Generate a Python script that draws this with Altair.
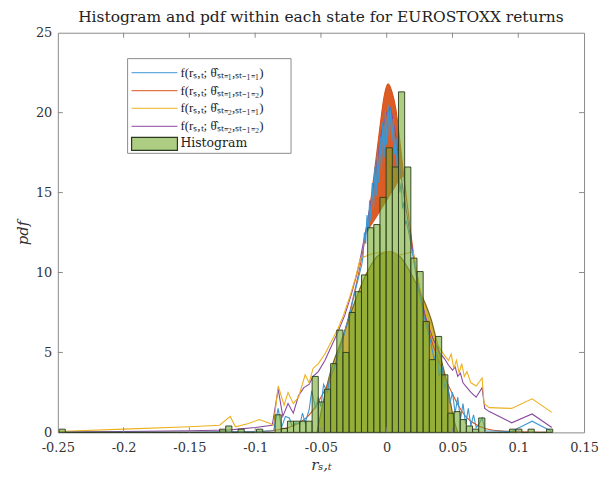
import altair as alt
import pandas as pd

FONT = "DejaVu Serif"

# ---------------- data ----------------
BIN_ORIGIN = -0.249
BIN_WIDTH = 0.00469
hist_bins = list(range(80))
hist_nonzero = {0: 0.2, 26: 0.2, 27: 0.4, 29: 0.2, 32: 0.2, 35: 1.1, 36: 0.25,
                37: 0.7, 38: 0.7, 39: 0.7, 40: 0.7, 41: 3.5, 42: 1.9, 43: 2.7,
                44: 4.3, 45: 6.4, 46: 5.0, 47: 7.5, 48: 8.8, 49: 9.85, 50: 12.8,
                51: 13.0, 52: 14.7, 53: 17.8, 54: 16.6, 55: 21.3, 56: 16.6,
                57: 10.9, 58: 10.06, 59: 6.94, 60: 4.55, 61: 6.0, 62: 3.6,
                63: 1.2, 64: 1.3, 65: 0.8, 66: 0.4, 67: 0.2, 68: 0.9, 73: 0.2,
                74: 0.2, 76: 0.2, 79: 0.2}
hist_density = [hist_nonzero.get(k, 0.0) for k in hist_bins]

x_ticks = [-0.25, -0.2, -0.15, -0.1, -0.05, 0, 0.05, 0.1, 0.15]
y_ticks = [0, 5, 10, 15, 20, 25]

red_x = [-0.25, -0.15, -0.1, -0.08, -0.07, -0.06, -0.055, -0.05, -0.045, -0.04,
         -0.035, -0.03, -0.025, -0.02, -0.016, -0.012, -0.008, -0.005, -0.002,
         0.001, 0.004, 0.007, 0.010, 0.013, 0.016, 0.02, 0.025, 0.03, 0.035,
         0.04, 0.045, 0.05, 0.055, 0.06, 0.07, 0.08, 0.1, 0.125]
red_y = [0.0, 0.01, 0.05, 0.2, 0.45, 1.0, 1.5, 2.2, 3.0, 4.0,
         5.4, 6.9, 8.6, 10.5, 12.4, 14.6, 17.2, 19.2, 21.0,
         21.8, 21.3, 20.2, 18.2, 16.0, 14.0, 11.4, 9.0, 6.9, 5.5,
         4.4, 3.3, 2.4, 1.6, 1.0, 0.4, 0.15, 0.04, 0.01]

cap_x = [-0.016, -0.012, -0.008, -0.005, -0.002, 0.001, 0.004, 0.007, 0.010, 0.013]
cap_top = [12.4, 14.6, 17.2, 19.2, 21.0, 21.8, 21.3, 20.2, 18.2, 16.0]
cap_bottom = [12.4, 12.9, 13.4, 13.8, 14.2, 14.6, 15.0, 15.4, 15.8, 16.0]

blue_x = [-0.25, -0.15, -0.12, -0.1, -0.086, -0.0825, -0.080, -0.077, -0.074, -0.072,
          -0.069, -0.066, -0.064, -0.062, -0.059, -0.057, -0.054, -0.052, -0.05,
          -0.048, -0.045, -0.043, -0.04, -0.037, -0.034, -0.031, -0.028, -0.025,
          -0.022, -0.019,
          -0.018, -0.017, -0.016, -0.015, -0.014, -0.013, -0.012, -0.011, -0.010,
          -0.009, -0.008, -0.007, -0.006, -0.005, -0.004, -0.003, -0.002, -0.001,
          0.000, 0.001, 0.002, 0.003, 0.004, 0.005, 0.006, 0.007, 0.008, 0.009,
          0.010, 0.011, 0.012, 0.013, 0.014,
          0.015, 0.018, 0.021, 0.024, 0.027, 0.030, 0.033, 0.036, 0.038, 0.04,
          0.042, 0.044, 0.046, 0.048, 0.05, 0.052, 0.054, 0.056, 0.058, 0.06,
          0.062, 0.064, 0.066, 0.068, 0.070, 0.0725, 0.075, 0.095, 0.1105, 0.1255]
blue_y = [0.0, 0.01, 0.03, 0.05, 0.1, 1.5, 0.3, 1.0, 0.9, 0.4,
          0.6, 0.5, 1.2, 0.6, 1.4, 2.6, 1.5, 2.2, 1.6,
          3.0, 2.5, 3.6, 4.0, 4.8, 5.6, 6.6, 7.4, 8.5,
          9.5, 10.5,
          11.0, 12.5, 11.8, 13.6, 12.6, 14.5, 13.2, 15.6, 14.0,
          16.6, 14.8, 17.6, 15.6, 18.5, 16.4, 19.4, 17.2, 20.1,
          18.0, 20.5, 18.5, 20.3, 18.2, 19.6, 17.4, 18.4, 16.3, 17.0,
          15.0, 15.6, 14.0, 14.4, 13.0,
          13.2, 12.0, 10.5, 9.0, 7.8, 6.7, 5.8, 4.6, 5.0, 3.5,
          4.2, 2.8, 3.2, 1.8, 2.5, 1.2, 2.2, 0.8, 1.8, 0.5,
          1.5, 0.4, 1.1, 0.3, 0.5, 0.9, 0.1, 0.05, 0.7, 0.05]

purple_x = [-0.25, -0.2, -0.15, -0.12, -0.113, -0.1, -0.087, -0.0825, -0.079, -0.075,
            -0.071, -0.067, -0.063, -0.059, -0.056, -0.052, -0.047, -0.042, -0.037,
            -0.032, -0.027, -0.023, -0.02, -0.016, -0.012, -0.008, -0.004, 0.0,
            0.003, 0.006, 0.009, 0.012, 0.016, 0.02, 0.025, 0.03, 0.035, 0.04,
            0.044, 0.047, 0.05, 0.052, 0.054, 0.056, 0.058, 0.061, 0.064, 0.068,
            0.0725, 0.0745, 0.078, 0.095, 0.1105, 0.1255]
purple_y = [0.02, 0.05, 0.1, 0.15, 0.2, 0.3, 0.45, 2.7, 1.0, 1.8,
            1.2, 2.3, 2.8, 3.0, 3.5, 3.8, 4.5, 5.4, 6.3,
            7.3, 8.6, 9.8, 10.9, 12.6, 14.4, 16.5, 18.8, 20.0,
            20.3, 19.0, 17.2, 15.4, 13.3, 11.2, 8.9, 7.1, 5.9, 5.0,
            4.6, 4.2, 3.9, 4.1, 3.5, 3.7, 3.1, 2.8, 2.5, 2.2,
            2.8, 1.5, 1.3, 0.6, 1.15, 0.3]

yellow_x = [-0.25, -0.2, -0.15, -0.127, -0.119, -0.115, -0.105, -0.097, -0.09, -0.086,
            -0.0825, -0.078, -0.075, -0.071, -0.067, -0.062, -0.059, -0.056, -0.052,
            -0.047, -0.042, -0.037, -0.033, -0.028, -0.024, -0.02, -0.01, 0.0, 0.01,
            0.02, 0.025, 0.03, 0.035, 0.04, 0.044, 0.047, 0.049, 0.051, 0.053, 0.055,
            0.057, 0.059, 0.061, 0.064, 0.068, 0.0725, 0.074, 0.078, 0.095, 0.1105,
            0.1255]
yellow_y = [0.05, 0.2, 0.35, 0.45, 1.0, 0.35, 0.55, 0.8, 0.6, 0.45,
            2.9, 1.7, 2.5, 1.8, 2.2, 3.6, 3.1, 4.0, 4.3,
            4.9, 5.7, 6.5, 7.3, 8.5, 9.6, 10.9, 11.2, 11.3, 11.1,
            11.3, 9.1, 7.4, 6.1, 5.3, 4.8, 4.5, 4.9, 4.0, 4.5, 3.7,
            4.3, 3.5, 3.8, 3.1, 2.9, 3.4, 1.8, 1.55, 1.5, 2.1,
            1.25]

dome_x = [-0.053, -0.048, -0.042, -0.035, -0.025, -0.015, -0.006, 0.002, 0.01,
          0.018, 0.027, 0.034, 0.04, 0.046, 0.051, 0.054]
dome_y = [0.0, 2.0, 4.0, 5.6, 8.0, 10.0, 11.1, 11.3, 11.0,
          10.0, 8.5, 7.0, 5.0, 3.0, 0.8, 0.0]

legend_labels = ["f(rₛ,ₜ; θ̂ₛₜ₌₁,ₛₜ₋₁₌₁)", "f(rₛ,ₜ; θ̂ₛₜ₌₁,ₛₜ₋₁₌₂)",
                 "f(rₛ,ₜ; θ̂ₛₜ₌₂,ₛₜ₋₁₌₁)", "f(rₛ,ₜ; θ̂ₛₜ₌₂,ₛₜ₋₁₌₂)"]
hist_label = "Histogram"

# ---------------- styles ----------------
C_BLUE, C_RED, C_YEL, C_PUR = "#3D97D3", "#D95319", "#EDB120", "#8A4A9E"
line_colors = [C_BLUE, C_RED, C_YEL, C_PUR]
BAR_FILL, BAR_EDGE = "#77AC30", "#2A3A1E"
FRAME = "#8C8C8C"
W, H = 528, 401

xs = alt.Scale(domain=[-0.25, 0.15], nice=False, zero=False)
ys = alt.Scale(domain=[0, 25], nice=False, zero=False)
xaxis = alt.Axis(values=x_ticks, format=".2~f",
                 labelExpr="replace(datum.label, '\u2212', '-')",
                 labelFlush=False, labelOverlap=False,
                 tickSize=0, domain=False, grid=False, labelFont=FONT,
                 labelFontSize=13, labelColor="#333333", labelPadding=9,
                 title="rₛ,ₜ", titleFont=FONT, titleFontStyle="italic",
                 titleFontWeight="normal", titleFontSize=15, titleColor="#333333",
                 titlePadding=3)
yaxis = alt.Axis(values=y_ticks, tickSize=0, domain=False, grid=False,
                 labelFlush=False, labelOverlap=False,
                 labelFont=FONT, labelFontSize=13, labelColor="#333333",
                 labelPadding=6, title="pdf", titleFont=FONT,
                 titleFontStyle="italic", titleFontWeight="normal",
                 titleFontSize=15, titleColor="#333333", titlePadding=5)


def X(field):
    return alt.X(field, type="quantitative", scale=xs, axis=xaxis)


def Y(field):
    return alt.Y(field, type="quantitative", scale=ys, axis=yaxis)


hist_df = pd.DataFrame({
    "x0": [BIN_ORIGIN + BIN_WIDTH * k for k in hist_bins],
    "x1": [BIN_ORIGIN + BIN_WIDTH * (k + 1) for k in hist_bins],
    "density": hist_density,
})

layers = []

# olive dome (dense state-2 curve)
layers.append(alt.Chart(pd.DataFrame({"x": dome_x, "y": dome_y}))
              .mark_area(color="#BCA830", opacity=0.9, interpolate="monotone",
                         line={"color": "#7A6A18", "strokeWidth": 1.2})
              .encode(x=X("x"), y=Y("y")))

# red filled cap
layers.append(alt.Chart(pd.DataFrame({"x": cap_x, "y": cap_top, "y2": cap_bottom}))
              .mark_area(color=C_RED, opacity=0.95, interpolate="monotone")
              .encode(x=X("x"), y=Y("y"), y2="y2"))

for xv, yv, col, interp in [(red_x, red_y, C_RED, "monotone"),
                            (purple_x, purple_y, C_PUR, "linear"),
                            (yellow_x, yellow_y, C_YEL, "linear"),
                            (blue_x, blue_y, C_BLUE, "linear")]:
    layers.append(alt.Chart(pd.DataFrame({"x": xv, "y": yv}))
                  .mark_line(color=col, strokeWidth=1.1, interpolate=interp, clip=True)
                  .encode(x=X("x"), y=Y("y")))

# histogram
layers.append(alt.Chart(hist_df)
              .mark_rect(fill=BAR_FILL, fillOpacity=0.6, stroke=BAR_EDGE,
                         strokeWidth=0.9)
              .encode(x=X("x0"), x2="x1", y=Y("density"), y2=alt.datum(0)))

# inward ticks on all four sides
xt = pd.DataFrame({"t": x_ticks[1:-1]})
yt = pd.DataFrame({"t": y_ticks[1:-1]})
layers.append(alt.Chart(xt).mark_rule(color=FRAME, strokeWidth=1)
              .encode(x=X("t"), y=alt.value(H), y2=alt.value(H - 5)))
layers.append(alt.Chart(xt).mark_rule(color=FRAME, strokeWidth=1)
              .encode(x=X("t"), y=alt.value(0), y2=alt.value(5)))
layers.append(alt.Chart(yt).mark_rule(color=FRAME, strokeWidth=1)
              .encode(y=Y("t"), x=alt.value(0), x2=alt.value(5)))
layers.append(alt.Chart(yt).mark_rule(color=FRAME, strokeWidth=1)
              .encode(y=Y("t"), x=alt.value(W), x2=alt.value(W - 5)))

# legend
one = pd.DataFrame({"k": [0]})
layers.append(alt.Chart(one).mark_rect(fill="white", stroke=FRAME, strokeWidth=1)
              .encode(x=alt.value(70), x2=alt.value(234), y=alt.value(26),
                      y2=alt.value(121)))
row_y = [40, 58, 76, 94]
for lab, col, ry in zip(legend_labels, line_colors, row_y):
    d = pd.DataFrame({"label": [lab]})
    layers.append(alt.Chart(d).mark_rule(color=col, strokeWidth=1.3, opacity=0.8)
                  .encode(x=alt.value(74), x2=alt.value(120), y=alt.value(ry)))
    layers.append(alt.Chart(d).mark_text(align="left", baseline="middle",
                                         font="Liberation Serif",
                                         fontSize=13, color="#222222")
                  .encode(x=alt.value(123), y=alt.value(ry), text="label:N"))
dh = pd.DataFrame({"label": [hist_label]})
layers.append(alt.Chart(dh).mark_rect(fill=BAR_FILL, fillOpacity=0.6, stroke=BAR_EDGE,
                                      strokeWidth=1.2)
              .encode(x=alt.value(74), x2=alt.value(120), y=alt.value(105),
                      y2=alt.value(118)))
layers.append(alt.Chart(dh).mark_text(align="left", baseline="middle", font=FONT,
                                      fontSize=12.5, color="#222222")
              .encode(x=alt.value(123), y=alt.value(111), text="label:N"))

chart = (alt.layer(*layers)
         .properties(width=W, height=H,
                     padding={"left": 50, "top": 24, "right": 14, "bottom": 50},
                     autosize=alt.AutoSizeParams(type="none"),
                     title=alt.Title("Histogram and pdf within each state for EUROSTOXX returns",
                                     font=FONT, fontSize=15.5, fontWeight="normal",
                                     color="#222222", anchor="middle", offset=1,
                                     frame="group"))
         .configure_view(stroke=FRAME, strokeWidth=1))

chart.save("out.html", embed_options={"renderer": "svg", "actions": False})
